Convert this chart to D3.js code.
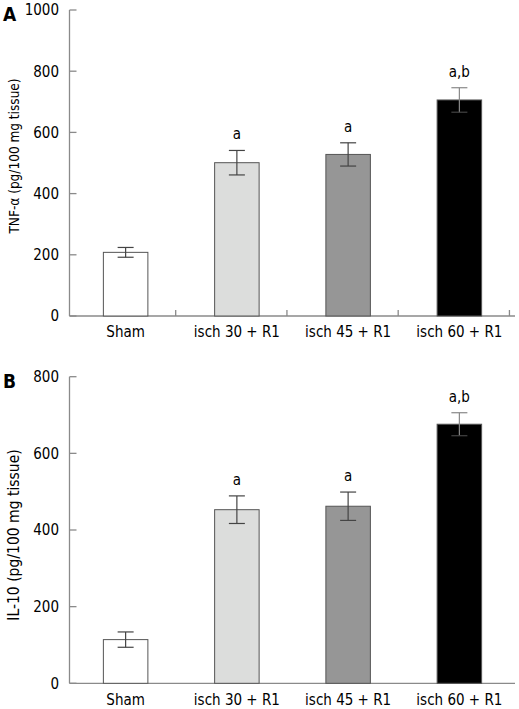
<!DOCTYPE html>
<html><head><meta charset="utf-8">
<script src="https://cdn.jsdelivr.net/npm/d3@7"></script>
<style>
html,body{margin:0;padding:0;background:#fff;}
svg{display:block;}
text{font-family:"DejaVu Sans Condensed","DejaVu Sans",Verdana,sans-serif;fill:#000;}
</style></head>
<body>
<svg id="chart" width="519" height="709"></svg>
<script>
const categories = ["Sham", "isch 30 + R1", "isch 45 + R1", "isch 60 + R1"];
const fills = ["#ffffff", "#dcdddc", "#969696", "#000000"];
const tnfValues = [208, 501, 528, 706];
const tnfErrors = [16, 40, 38, 40];
const tnfLabels = ["", "a", "a", "a,b"];
const tnfTicks = [0, 200, 400, 600, 800, 1000];
const il10Values = [114, 453, 462, 676];
const il10Errors = [20, 36, 37, 30];
const il10Labels = ["", "a", "a", "a,b"];
const il10Ticks = [0, 200, 400, 600, 800];

const svg = d3.select("#chart");
const x = d3.scaleBand().domain(categories).range([70, 515]).padding(0);

function panel(opts) {
  const g = svg.append("g");
  const y = d3.scaleLinear().domain([0, opts.max]).range([opts.bottom, opts.top]);
  const axisColor = "#8a8a8a";
  g.append("line").attr("x1", 69.5).attr("x2", 69.5).attr("y1", y(opts.max)).attr("y2", y(0))
    .attr("stroke", axisColor).attr("stroke-width", 1.3);
  opts.ticks.forEach(t => {
    g.append("line").attr("x1", 69.5).attr("x2", 76.5).attr("y1", y(t)).attr("y2", y(t))
      .attr("stroke", axisColor).attr("stroke-width", 1.3);
    g.append("text").attr("x", 59).attr("y", y(t)).attr("dy", "0.36em")
      .attr("text-anchor", "end").attr("font-size", 15).text(t);
  });
  g.append("line").attr("x1", 69.5).attr("x2", 515).attr("y1", y(0)).attr("y2", y(0))
    .attr("stroke", axisColor).attr("stroke-width", 1.3);
  if (opts.xTicks) {
    categories.forEach(c => {
      const tx = x(c) + x.bandwidth() * 0.95;
      g.append("line").attr("x1", tx).attr("x2", tx).attr("y1", y(0)).attr("y2", y(0) - 6)
        .attr("stroke", axisColor).attr("stroke-width", 1.3);
    });
  }
  categories.forEach(c => {
    g.append("text").attr("x", x(c) + x.bandwidth() / 2).attr("y", y(0) + opts.labelGap)
      .attr("text-anchor", "middle").attr("font-size", 15).text(c);
  });
  const bw = x.bandwidth() * 0.4;
  categories.forEach((c, i) => {
    const cx = x(c) + x.bandwidth() / 2;
    const v = opts.values[i], e = opts.errors[i];
    g.append("rect").attr("x", cx - bw / 2).attr("y", y(v)).attr("width", bw).attr("height", y(0) - y(v))
      .attr("fill", fills[i]).attr("stroke", "#555").attr("stroke-width", 1);
    const ec = i === 3 ? "#888" : "#444";
    g.append("line").attr("x1", cx).attr("x2", cx).attr("y1", y(v + e)).attr("y2", y(v - e))
      .attr("stroke", ec).attr("stroke-width", 1.2);
    g.append("line").attr("x1", cx - 8).attr("x2", cx + 8).attr("y1", y(v + e)).attr("y2", y(v + e))
      .attr("stroke", ec).attr("stroke-width", 1.2);
    g.append("line").attr("x1", cx - 8).attr("x2", cx + 8).attr("y1", y(v - e)).attr("y2", y(v - e))
      .attr("stroke", "#444").attr("stroke-width", 1.2);
    if (opts.labels[i]) {
      g.append("text").attr("x", cx).attr("y", y(v + e) - 11).attr("text-anchor", "middle")
        .attr("font-size", 15).text(opts.labels[i]);
    }
  });
  g.append("text").attr("transform", `translate(${opts.ylabX},${(y(0) + y(opts.max)) / 2 + opts.ylabShift}) rotate(-90)`)
    .attr("text-anchor", "middle").attr("font-family", "Liberation Serif, Times New Roman, serif")
    .attr("font-size", opts.ylabSize).text(opts.ylabel);
  g.append("text").attr("x", 3).attr("y", opts.letterY).attr("font-family", "Liberation Sans, Arial, sans-serif")
    .attr("font-weight", "bold").attr("font-size", 19).text(opts.letter);
}

panel({ max: 1000, top: 10, bottom: 316, ticks: tnfTicks, values: tnfValues, errors: tnfErrors,
  labels: tnfLabels, xTicks: true, labelGap: 20.5, ylabel: "TNF-α (pg/100 mg tissue)", ylabX: 19,
  ylabSize: 13.5, ylabShift: -7, letter: "A", letterY: 21 });
panel({ max: 800, top: 376.7, bottom: 683.3, ticks: il10Ticks, values: il10Values, errors: il10Errors,
  labels: il10Labels, xTicks: false, labelGap: 22, ylabel: "IL-10 (pg/100 mg tissue)", ylabX: 19,
  ylabSize: 15.5, ylabShift: 5, letter: "B", letterY: 388 });
</script>
</body></html>
